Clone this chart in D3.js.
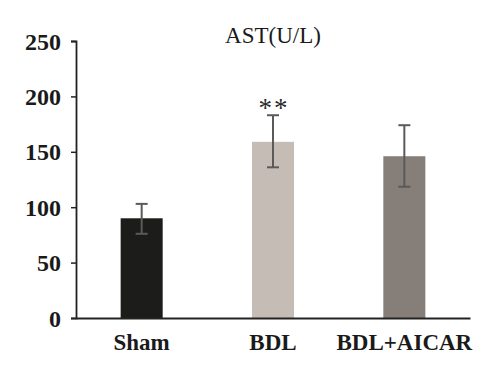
<!DOCTYPE html>
<html>
<head>
<meta charset="utf-8">
<script src="https://cdn.jsdelivr.net/npm/d3@7"></script>
<style>
  body { margin: 0; background: #fff; }
  svg { display: block; }
  .tick text { font-family: "Liberation Serif", "Times New Roman", serif; font-weight: bold; fill: #1a1a1a; }
</style>
</head>
<body>
<div id="container"></div>
<script>
const width = 500;
const height = 370;

// DATA
const groups = ["Sham", "BDL", "BDL+AICAR"];
const means = [90, 159, 146];
const errLow = [76, 136, 118.5];
const errHigh = [103, 183, 174];
const marks = ["", "**", ""];
const yTicks = [0, 50, 100, 150, 200, 250];
const colors = ["#1c1c1a", "#c5bcb6", "#857e79"];

const svg = d3.select("div#container").append("svg")
    .attr("width", width)
    .attr("height", height);

// SCALES
const x = d3.scaleBand()
    .domain(groups)
    .range([76, 470])
    .paddingInner(0.68)
    .paddingOuter(0.34);

const y = d3.scaleLinear()
    .domain([0, 250])
    .range([318, 41]);

// AXES
const yAxis = svg.append("g")
    .attr("transform", "translate(76,0)")
    .call(d3.axisLeft(y).tickValues(yTicks).tickSize(5).tickPadding(10));
yAxis.selectAll("text").style("font-size", "24px").attr("dy", "0.34em");

const xAxis = svg.append("g")
    .attr("transform", "translate(0,318)")
    .call(d3.axisBottom(x).tickSize(0).tickPadding(16));
xAxis.selectAll("text").style("font-size", "23px");

svg.selectAll(".domain").attr("stroke", "#222").attr("stroke-width", 1.8);
svg.selectAll(".tick line").attr("stroke", "#222").attr("stroke-width", 1.5);

// BARS
const bw = x.bandwidth();
svg.selectAll("rect.bar")
    .data(groups)
    .enter()
    .append("rect")
    .attr("class", "bar")
    .attr("x", d => x(d))
    .attr("y", (d, i) => y(means[i]))
    .attr("width", bw)
    .attr("height", (d, i) => y(0) - y(means[i]))
    .attr("fill", (d, i) => colors[i]);

// keep axis above bars
svg.node().appendChild(xAxis.node());

// ERROR BARS
const eb = svg.append("g")
    .attr("stroke", "#5a5a5a")
    .attr("stroke-width", 2);
groups.forEach(function (g, i) {
    const cx = x(g) + bw / 2;
    eb.append("line").attr("x1", cx).attr("x2", cx)
        .attr("y1", y(errHigh[i])).attr("y2", y(errLow[i]));
    eb.append("line").attr("x1", cx - 6).attr("x2", cx + 6)
        .attr("y1", y(errHigh[i])).attr("y2", y(errHigh[i]));
    eb.append("line").attr("x1", cx - 6).attr("x2", cx + 6)
        .attr("y1", y(errLow[i])).attr("y2", y(errLow[i]));
});

// SIGNIFICANCE
svg.selectAll("text.sig")
    .data(groups)
    .enter()
    .append("text")
    .attr("class", "sig")
    .attr("x", d => x(d) + bw / 2 + 1)
    .attr("y", (d, i) => y(errHigh[i]) + 2)
    .attr("text-anchor", "middle")
    .style("font-family", "'Liberation Serif', serif")
    .style("font-size", "27px")
    .style("letter-spacing", "2px")
    .style("fill", "#2a2a2a")
    .text((d, i) => marks[i]);

// TITLE
svg.append("text")
    .attr("x", 273)
    .attr("y", 43)
    .attr("text-anchor", "middle")
    .style("font-family", "'Liberation Serif', serif")
    .style("font-size", "23px")
    .style("fill", "#1a1a1a")
    .text("AST(U/L)");
</script>
</body>
</html>
